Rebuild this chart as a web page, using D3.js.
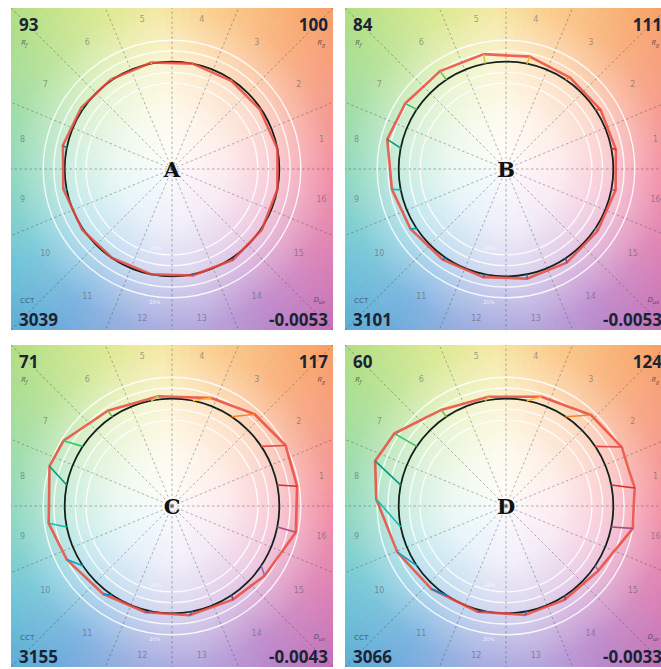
<!DOCTYPE html>
<html>
<head>
<meta charset="utf-8">
<script src="https://cdn.jsdelivr.net/npm/d3@7"></script>
<style>
  body { margin: 0; background: #fff; }
</style>
</head>
<body>
<div id="chart"></div>
<script>
const W = 661, H = 669;
const size = 322;

const panelNames = ["A", "B", "C", "D"];
const panelX = [11, 345, 11, 345];
const panelY = [8, 8, 345, 345];
const rfValues = [93, 84, 71, 60];
const rgValues = [100, 111, 117, 124];
const cctValues = [3039, 3101, 3155, 3066];
const duvValues = ["-0.0053", "-0.0053", "-0.0043", "-0.0033"];

const binLabels = d3.range(1, 17).map(String);
const binColors = ["#e62828", "#e74b4b", "#fb812e", "#ffb529", "#cbca46", "#7eb94c", "#41c06d", "#009c7c",
                   "#16bcb0", "#00a4bf", "#0085c3", "#3b62aa", "#4568ae", "#6a4e85", "#9d69a1", "#a74f81"];

// test / reference chroma ratio per hue bin
const chromaA = [1.00, 0.99, 0.99, 1.00, 1.01, 1.01, 1.02, 1.04, 1.03, 1.01, 1.00, 1.00, 1.01, 1.02, 1.01, 1.00];
const chromaB = [1.04, 1.04, 1.04, 1.07, 1.09, 1.10, 1.12, 1.14, 1.08, 1.05, 1.03, 1.03, 1.04, 1.04, 1.03, 1.04];
const chromaC = [1.18, 1.20, 1.15, 1.07, 1.03, 1.07, 1.18, 1.20, 1.16, 1.10, 1.04, 1.02, 1.03, 1.04, 1.08, 1.18];
const chromaD = [1.21, 1.21, 1.16, 1.07, 1.03, 1.08, 1.24, 1.29, 1.21, 1.10, 1.04, 1.02, 1.03, 1.03, 1.05, 1.20];
// hue shift per bin, degrees
const shiftA = [-0.5, 0.3, -0.2, 0.2, -0.3, 0.5, -0.5, -1, -0.8, 0.3, -0.2, 0.2, -0.3, 0.3, -0.2, 0.2];
const shiftB = [-1.25, -1.75, -1.25, -0.75, -0.25, 0.25, 0.75, -2.75, -1.25, -1.75, -1.25, -0.75, -0.25, -0.75, -0.25, 0.25];
const shiftC = [-2.25, -5.75, -8.25, -8.75, -4.25, 0.25, 2.75, -6.75, -3.25, -6.75, -4.25, -2.75, -2.25, -0.75, -3.25, -0.75];
const shiftD = [-3.25, -6.75, -9.25, -6.75, -2.25, 0.25, 0.75, -7.75, -14.25, -10.75, -8.25, -3.75, -1.25, -1.75, -1.25, 1.25];

const chromaAll = [chromaA, chromaB, chromaC, chromaD];
const shiftAll = [shiftA, shiftB, shiftC, shiftD];

// background hue colours by angle
const bgAngles = [0, 30, 50, 75, 95, 115, 140, 165, 185, 210, 235, 260, 280, 305, 330, 360];
const bgColors = ["#f0708a", "#f58c6c", "#f8a060", "#fac070", "#f2e28a", "#d4e47c", "#a8dc80", "#84d49a",
                  "#6ecdb0", "#58bcd0", "#5aa0d8", "#8a98d8", "#a090d4", "#b070c0", "#d46aa8", "#f0708a"];

const bgScale = d3.scaleLinear().domain(bgAngles).range(bgColors).interpolate(d3.interpolateRgb);

const x = d3.scaleLinear().domain([-1.5, 1.5]).range([0, size]);
const y = d3.scaleLinear().domain([-1.5, 1.5]).range([size, 0]);
const r = d3.scaleLinear().domain([0, 1.5]).range([0, size / 2]);

const rad = d => d * Math.PI / 180;

const svg = d3.select("#chart").append("svg")
    .attr("width", W)
    .attr("height", H);

const defs = svg.append("defs");
const grad = defs.append("radialGradient")
    .attr("id", "whiteFade")
    .attr("gradientUnits", "userSpaceOnUse")
    .attr("cx", 0).attr("cy", 0).attr("r", r(2.2));
[[0, 0.96], [0.23, 0.86], [0.45, 0.62], [0.68, 0.22], [1, 0]].forEach(([o, a]) => {
    grad.append("stop").attr("offset", o).attr("stop-color", "#fff").attr("stop-opacity", a);
});

const wedges = d3.range(0, 360, 3);
const wedgeArc = d3.arc().innerRadius(0).outerRadius(r(2.3));

panelNames.forEach((name, p) => {
    const g = svg.append("g")
        .attr("transform", `translate(${panelX[p]},${panelY[p]})`);

    defs.append("clipPath").attr("id", "clip" + p)
        .append("rect").attr("width", size).attr("height", size);

    const body = g.append("g").attr("clip-path", `url(#clip${p})`);
    const c = body.append("g").attr("transform", `translate(${x(0)},${y(0)})`);

    // coloured background
    c.selectAll("path.bg")
        .data(wedges)
        .join("path")
        .attr("class", "bg")
        .attr("d", a => wedgeArc({ startAngle: rad(90 - a - 3.6), endAngle: rad(90 - a + 0.6) }))
        .attr("fill", a => bgScale(a + 1.5));

    c.append("circle").attr("r", r(2.2)).attr("fill", "url(#whiteFade)");

    // white rings
    c.selectAll("circle.ring")
        .data([0.8, 0.9, 1.1, 1.2])
        .join("circle")
        .attr("class", "ring")
        .attr("r", d => r(d))
        .attr("fill", "none")
        .attr("stroke", "#fff")
        .attr("stroke-opacity", 0.85)
        .attr("stroke-width", 1.4);

    // bin boundaries
    c.selectAll("line.spoke")
        .data(d3.range(0, 360, 22.5))
        .join("line")
        .attr("class", "spoke")
        .attr("x1", 0).attr("y1", 0)
        .attr("x2", a => r(2.2) * Math.cos(rad(a)))
        .attr("y2", a => -r(2.2) * Math.sin(rad(a)))
        .attr("stroke", "#444")
        .attr("stroke-opacity", 0.5)
        .attr("stroke-width", 0.8)
        .attr("stroke-dasharray", "2.5,2.5");

    // bin labels
    c.selectAll("text.bin")
        .data(binLabels)
        .join("text")
        .attr("class", "bin")
        .attr("x", (d, i) => r(1.42) * Math.cos(rad((i + 0.5) * 22.5)))
        .attr("y", (d, i) => -r(1.42) * Math.sin(rad((i + 0.5) * 22.5)))
        .attr("dy", "0.35em")
        .attr("text-anchor", "middle")
        .attr("font-family", "DejaVu Sans, sans-serif")
        .attr("font-size", 8)
        .attr("fill", "#555")
        .attr("fill-opacity", 0.55)
        .text(d => d);

    c.selectAll("text.pct")
        .data([[-1.24, "20%"], [-0.74, "-20%"]])
        .join("text")
        .attr("class", "pct")
        .attr("x", r(-0.16))
        .attr("y", d => -r(d[0]))
        .attr("dy", "0.35em")
        .attr("text-anchor", "middle")
        .attr("font-family", "DejaVu Sans, sans-serif")
        .attr("font-size", 5)
        .attr("fill", "#fff")
        .attr("fill-opacity", 0.8)
        .text(d => d[1]);

    // reference circle
    c.append("circle")
        .attr("r", r(1))
        .attr("fill", "none")
        .attr("stroke", "#14201c")
        .attr("stroke-width", 1.8);

    const pts = chromaAll[p].map((k, i) => {
        const a = rad((i + 0.5) * 22.5 + shiftAll[p][i]);
        return { x: r(k) * Math.cos(a), y: -r(k) * Math.sin(a), i };
    });

    // test polygon
    c.append("path")
        .attr("d", d3.line().x(d => d.x).y(d => d.y).curve(d3.curveLinearClosed)(pts))
        .attr("fill", "none")
        .attr("stroke", "#ea4a3e")
        .attr("stroke-opacity", 0.85)
        .attr("stroke-width", 2.6)
        .attr("stroke-linejoin", "round");

    // shift vectors
    c.selectAll("line.vec")
        .data(pts)
        .join("line")
        .attr("class", "vec")
        .attr("x1", d => r(1) * Math.cos(rad((d.i + 0.5) * 22.5)))
        .attr("y1", d => -r(1) * Math.sin(rad((d.i + 0.5) * 22.5)))
        .attr("x2", d => d.x)
        .attr("y2", d => d.y)
        .attr("stroke", d => binColors[d.i])
        .attr("stroke-width", 1.6);

    c.append("text")
        .attr("text-anchor", "middle")
        .attr("dy", "0.36em")
        .attr("font-family", "DejaVu Serif, serif")
        .attr("font-weight", "bold")
        .attr("font-size", 21)
        .attr("fill", "#111")
        .text(name);

    // corner metrics
    const big = (sel) => sel.attr("font-family", "Open Sans, sans-serif")
        .attr("font-weight", "bold")
        .attr("font-size", 17)
        .attr("fill", "#1b2433");
    const small = (sel) => sel.attr("font-family", "Open Sans, sans-serif")
        .attr("font-size", 8)
        .attr("fill", "#2a3040")
        .attr("fill-opacity", 0.75);

    big(body.append("text").attr("x", 8).attr("y", 23).text(rfValues[p]));
    big(body.append("text").attr("x", 317).attr("y", 23).attr("text-anchor", "end").text(rgValues[p]));
    big(body.append("text").attr("x", 8).attr("y", 318).text(cctValues[p]));
    big(body.append("text").attr("x", 317).attr("y", 318).attr("text-anchor", "end").text(duvValues[p]));

    const rf = small(body.append("text").attr("x", 10).attr("y", 37).attr("font-style", "italic"));
    rf.append("tspan").text("R");
    rf.append("tspan").attr("font-size", 6).attr("dy", 1.5).text("f");
    const rg = small(body.append("text").attr("x", 314).attr("y", 37).attr("font-style", "italic").attr("text-anchor", "end"));
    rg.append("tspan").text("R");
    rg.append("tspan").attr("font-size", 6).attr("dy", 1.5).text("g");
    small(body.append("text").attr("x", 9).attr("y", 295).text("CCT"));
    const duv = small(body.append("text").attr("x", 314).attr("y", 294).attr("font-style", "italic").attr("text-anchor", "end"));
    duv.append("tspan").text("D");
    duv.append("tspan").attr("font-size", 6).attr("dy", 1.5).text("uv");
});
</script>
</body>
</html>
